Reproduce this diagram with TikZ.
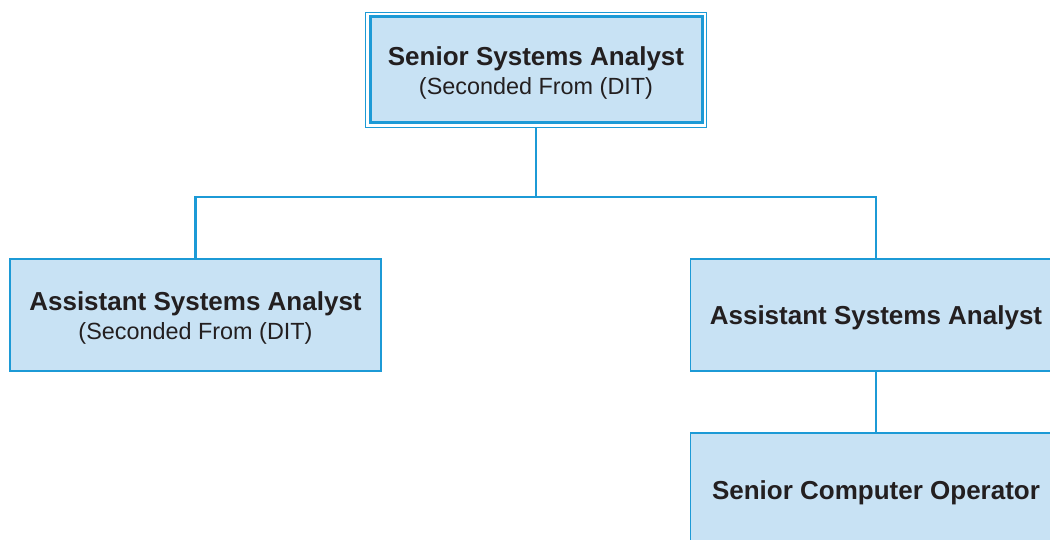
\documentclass[tikz,border=0pt]{standalone}
\usepackage{fontspec}
\setmainfont{Liberation Sans}
\definecolor{boxfill}{HTML}{C8E2F4}
\definecolor{boxline}{HTML}{1C9AD6}
\definecolor{txt}{HTML}{231F20}
\tikzset{
  orgbox/.style={draw=boxline, fill=boxfill, line width=1.4pt, minimum width=371pt, minimum height=112pt, inner sep=0pt},
  orgtext/.style={align=center, text=txt, inner sep=0pt, font=\fontsize{26}{30}\selectfont},
  link/.style={draw=boxline, line width=2.4pt}
}
\newcommand{\ttl}[1]{{\bfseries #1}}
\newcommand{\subl}[1]{{\fontsize{23.4}{30}\selectfont #1}}
\begin{document}
\begin{tikzpicture}[x=1pt,y=-1pt]
\useasboundingbox (0,0) rectangle (1050,539);
\clip (0,0) rectangle (1050,539);
\fill[white] (0,0) rectangle (1050,539);
\coordinate (mid) at (536,197);
\node[orgbox, line width=3pt, minimum width=332pt, minimum height=106pt] (top) at (536,69.5) {};
\draw[boxline, line width=1pt] ([shift={(-3pt,-3pt)}]top.south west) rectangle ([shift={(3pt,3pt)}]top.north east);
\node[orgbox] (left) at (195.5,315) {};
\node[orgbox] (right) at (876,315) {};
\node[orgbox, minimum height=114pt] (bottom) at (876,490) {};
\node[orgtext] (toptext) at ([yshift=-3pt]top.center) {\ttl{Senior Systems Analyst}\\[-1pt]\subl{(Seconded From (DIT)}};
\node[orgtext] (lefttext) at ([yshift=-3pt]left.center) {\ttl{Assistant Systems Analyst}\\[-1pt]\subl{(Seconded From (DIT)}};
\node[orgtext] (righttext) at ([yshift=-3pt]right.center) {\ttl{Assistant Systems Analyst}};
\node[orgtext] (bottomtext) at ([yshift=-3pt]bottom.center) {\ttl{Senior Computer Operator}};
\coordinate (topb) at ([yshift=-3pt]top.south);
\draw[link] (topb) -- (mid);
\draw[link] (left.north) |- (mid) -| (right.north);
\draw[link] (right.south) -- (bottom.north);
\end{tikzpicture}
\end{document}
